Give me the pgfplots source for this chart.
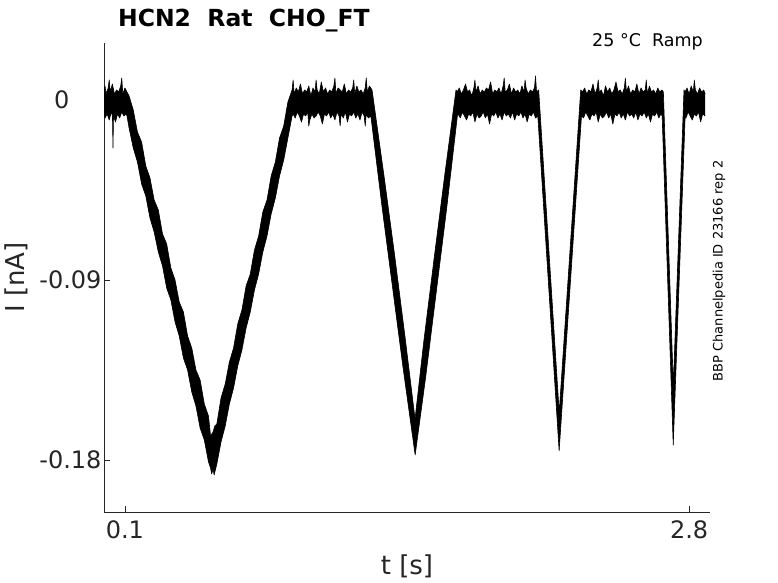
\documentclass[border=0pt]{standalone}
\usepackage{fontspec}
\setmainfont{DejaVu Sans}
\usepackage{pgfplots}
\pgfplotsset{compat=1.18}
\usepgfplotslibrary{fillbetween}
\definecolor{axgray}{gray}{0.15}
\begin{document}
\begin{tikzpicture}[x=1bp,y=1bp]
\begin{axis}[
  at={(0,0)}, anchor=south west,
  scale only axis, width=606bp, height=469bp,
  xmin=0, xmax=2.9, ymin=-0.206, ymax=0.0285,
  axis x line*=bottom, axis y line*=left,
  axis line style={axgray, line width=0.6bp, -},
  xtick={0.1,2.8}, xticklabels={0.1,2.8},
  ytick={-0.18,-0.09,0}, yticklabels={-0.18,-0.09,{0\hspace*{32bp}}},
  tick align=inside, major tick length=6bp,
  tick style={axgray, line width=0.6bp},
  ticklabel style={font=\fontsize{24bp}{28bp}\selectfont, text=axgray},
  xticklabel style={yshift=-5bp},
  yticklabel style={xshift=1bp},
  xlabel={t [s]}, ylabel={I [nA]},
  every axis x label/.style={at={(axis description cs:0.5,-0.1151)}, anchor=center},
  every axis y label/.style={at={(axis description cs:-0.1444,0.5)}, anchor=center, rotate=90},
  label style={font=\fontsize{26bp}{30bp}\selectfont, text=axgray},
  clip mode=individual,
]
% upper edge of the recorded trace
\addplot[name path=U, black, line width=0.6bp, line join=round] coordinates {
(0.000,0.004) (0.005,0.007) (0.010,0.003) (0.020,0.006) (0.025,0.010) (0.030,0.004) (0.040,0.008)
(0.050,0.003) (0.060,0.005) (0.070,0.004) (0.080,0.007) (0.085,0.011) (0.090,0.003) (0.100,0.006) (0.110,0.004)
(0.12,0.002) (0.14,-0.005) (0.16,-0.016) (0.18,-0.021) (0.20,-0.033) (0.22,-0.039)
(0.24,-0.050) (0.26,-0.055) (0.28,-0.067) (0.30,-0.072) (0.32,-0.084) (0.34,-0.090)
(0.36,-0.101) (0.38,-0.106) (0.40,-0.118) (0.42,-0.124) (0.44,-0.135) (0.46,-0.140)
(0.48,-0.152) (0.50,-0.158) (0.51,-0.168) (0.522,-0.166) (0.53,-0.163) (0.54,-0.162)
(0.56,-0.149) (0.58,-0.142) (0.60,-0.131) (0.62,-0.124) (0.64,-0.112) (0.66,-0.105)
(0.68,-0.093) (0.70,-0.087) (0.72,-0.075) (0.74,-0.068) (0.76,-0.056) (0.78,-0.050)
(0.80,-0.038) (0.82,-0.031) (0.84,-0.019) (0.86,-0.013) (0.88,-0.001) (0.90,0.005)
(0.905,0.010) (0.91,0.003) (0.92,0.006) (0.93,0.004) (0.94,0.008) (0.95,0.003) (0.96,0.005)
(0.97,0.004) (0.98,0.007) (0.99,0.002) (1.00,0.006) (1.01,0.004) (1.015,0.010) (1.02,0.005)
(1.03,0.003) (1.04,0.009) (1.05,0.004) (1.06,0.006) (1.07,0.003) (1.08,0.005)
(1.09,0.004) (1.10,0.007) (1.105,0.011) (1.11,0.003) (1.12,0.006) (1.13,0.005) (1.14,0.004)
(1.15,0.008) (1.16,0.003) (1.17,0.005) (1.18,0.004) (1.19,0.006) (1.195,0.010) (1.20,0.003)
(1.21,0.007) (1.22,0.004) (1.23,0.005) (1.24,0.003) (1.25,0.006) (1.255,0.011) (1.26,0.004)
(1.27,0.007) (1.2827,0.005)
(1.34,-0.038) (1.39,-0.077) (1.44,-0.118) (1.4885,-0.1595) (1.53,-0.121) (1.58,-0.079)
(1.63,-0.038) (1.6845,0.005)
(1.69,0.004) (1.70,0.006) (1.71,0.003) (1.72,0.005) (1.73,0.008) (1.74,0.004)
(1.75,0.005) (1.76,0.002) (1.77,0.006) (1.775,0.010) (1.78,0.004) (1.79,0.007) (1.80,0.003)
(1.81,0.005) (1.82,0.004) (1.83,0.006) (1.84,0.005) (1.85,0.009) (1.86,0.003)
(1.87,0.005) (1.88,0.004) (1.89,0.006) (1.90,0.003) (1.91,0.007) (1.915,0.011) (1.92,0.004)
(1.93,0.005) (1.94,0.008) (1.95,0.003) (1.96,0.006) (1.97,0.004) (1.98,0.005)
(1.99,0.003) (2.00,0.007) (2.01,0.004) (2.015,0.010) (2.02,0.006) (2.03,0.003) (2.04,0.005)
(2.05,0.004) (2.06,0.006) (2.065,0.012) (2.07,0.004) (2.0801,0.005)
(2.1783,-0.1563) (2.2813,0.005)
(2.29,0.004) (2.30,0.006) (2.31,0.003) (2.32,0.005) (2.33,0.004) (2.34,0.008)
(2.35,0.003) (2.36,0.006) (2.365,0.010) (2.37,0.004) (2.38,0.005) (2.39,0.002) (2.40,0.007)
(2.41,0.004) (2.42,0.006) (2.43,0.003) (2.44,0.005) (2.45,0.009) (2.46,0.004)
(2.47,0.005) (2.48,0.003) (2.49,0.006) (2.495,0.011) (2.50,0.004) (2.51,0.007) (2.52,0.003)
(2.53,0.005) (2.54,0.004) (2.55,0.008) (2.56,0.003) (2.57,0.006) (2.58,0.004)
(2.59,0.005) (2.595,0.010) (2.60,0.003) (2.61,0.007) (2.62,0.004) (2.63,0.005) (2.64,0.003)
(2.65,0.006) (2.66,0.004) (2.67,0.005) (2.6768,0.004)
(2.7244,-0.1427) (2.7755,0.005)
(2.78,0.004) (2.79,0.006) (2.80,0.003) (2.81,0.007) (2.82,0.004) (2.825,0.010) (2.83,0.005)
(2.84,0.003) (2.85,0.006) (2.86,0.004) (2.87,0.005) (2.877,0.003)
};
% lower edge of the recorded trace
\addplot[name path=L, black, line width=0.6bp, line join=round] coordinates {
(0.000,-0.006) (0.005,-0.009) (0.015,-0.007) (0.025,-0.010) (0.035,-0.006)
(0.0405,-0.008) (0.043,-0.024) (0.0455,-0.008) (0.055,-0.011) (0.065,-0.007)
(0.075,-0.009) (0.085,-0.006) (0.095,-0.008) (0.105,-0.007) (0.110,-0.008)
(0.12,-0.014) (0.14,-0.024) (0.16,-0.031) (0.18,-0.042) (0.20,-0.048) (0.22,-0.059)
(0.24,-0.066) (0.26,-0.076) (0.28,-0.083) (0.30,-0.094) (0.32,-0.100) (0.34,-0.111)
(0.36,-0.118) (0.38,-0.129) (0.40,-0.135) (0.42,-0.146) (0.44,-0.153) (0.46,-0.164)
(0.48,-0.170) (0.50,-0.181) (0.51,-0.184) (0.515,-0.187) (0.522,-0.1845) (0.527,-0.1875)
(0.54,-0.182) (0.56,-0.171) (0.58,-0.163) (0.60,-0.152) (0.62,-0.144) (0.64,-0.133)
(0.66,-0.125) (0.68,-0.114) (0.70,-0.106) (0.72,-0.095) (0.74,-0.087) (0.76,-0.076)
(0.78,-0.068) (0.80,-0.057) (0.82,-0.049) (0.84,-0.038) (0.86,-0.030) (0.88,-0.019)
(0.90,-0.008)
(0.905,-0.007) (0.915,-0.009) (0.925,-0.006) (0.935,-0.008) (0.945,-0.011) (0.955,-0.007)
(0.965,-0.008) (0.975,-0.006) (0.98,-0.013) (0.985,-0.010) (0.995,-0.007) (1.005,-0.009) (1.015,-0.008)
(1.025,-0.006) (1.035,-0.008) (1.045,-0.012) (1.055,-0.007) (1.065,-0.008) (1.075,-0.006)
(1.085,-0.009) (1.095,-0.007) (1.105,-0.010) (1.115,-0.006) (1.125,-0.008) (1.13,-0.013) (1.135,-0.007)
(1.145,-0.009) (1.155,-0.006) (1.165,-0.011) (1.175,-0.007) (1.185,-0.008) (1.195,-0.006)
(1.205,-0.009) (1.215,-0.007) (1.225,-0.010) (1.235,-0.006) (1.245,-0.008) (1.25,-0.013) (1.255,-0.007)
(1.265,-0.009) (1.277,-0.008)
(1.33,-0.053) (1.38,-0.093) (1.43,-0.133) (1.489,-0.1775) (1.54,-0.138) (1.59,-0.096)
(1.64,-0.054) (1.691,-0.008)
(1.695,-0.007) (1.705,-0.009) (1.715,-0.006) (1.725,-0.008) (1.735,-0.010) (1.745,-0.007)
(1.755,-0.008) (1.765,-0.006) (1.775,-0.011) (1.785,-0.007) (1.795,-0.009) (1.805,-0.008)
(1.815,-0.006) (1.825,-0.009) (1.835,-0.007) (1.845,-0.012) (1.855,-0.007) (1.865,-0.008)
(1.875,-0.006) (1.885,-0.009) (1.895,-0.007) (1.905,-0.010) (1.915,-0.006) (1.925,-0.008)
(1.935,-0.007) (1.945,-0.009) (1.955,-0.006) (1.965,-0.010) (1.975,-0.007) (1.985,-0.008)
(1.995,-0.006) (2.005,-0.009) (2.015,-0.007) (2.025,-0.011) (2.035,-0.007) (2.045,-0.008)
(2.055,-0.006) (2.065,-0.009) (2.076,-0.008)
(2.178,-0.1755) (2.285,-0.008)
(2.295,-0.009) (2.305,-0.006) (2.315,-0.008) (2.325,-0.010) (2.335,-0.007) (2.345,-0.008)
(2.355,-0.006) (2.365,-0.011) (2.375,-0.007) (2.385,-0.009) (2.395,-0.008) (2.405,-0.006)
(2.415,-0.009) (2.425,-0.007) (2.435,-0.012) (2.445,-0.007) (2.455,-0.008) (2.465,-0.006)
(2.475,-0.009) (2.485,-0.007) (2.495,-0.010) (2.505,-0.006) (2.515,-0.008) (2.525,-0.007)
(2.535,-0.009) (2.545,-0.006) (2.555,-0.010) (2.565,-0.007) (2.575,-0.008) (2.585,-0.006)
(2.595,-0.009) (2.605,-0.007) (2.615,-0.011) (2.625,-0.007) (2.635,-0.008) (2.645,-0.006)
(2.655,-0.009) (2.665,-0.007) (2.671,-0.008)
(2.724,-0.1725) (2.781,-0.008)
(2.785,-0.009) (2.795,-0.006) (2.805,-0.008) (2.815,-0.010) (2.825,-0.007) (2.835,-0.008)
(2.845,-0.006) (2.855,-0.011) (2.865,-0.007) (2.877,-0.008)
};
\addplot[black] fill between[of=U and L];
\node[anchor=base west, inner sep=0pt, font=\bfseries\fontsize{23.5bp}{28bp}\selectfont, text=black]
  at (axis description cs:0.023,1.0341) {HCN2\ \ Rat\ \ CHO\_FT};
\node[anchor=base east, inner sep=0pt, font=\fontsize{17.5bp}{21bp}\selectfont, text=black]
  at (axis description cs:0.9884,0.9915) {25 °C\ \ Ramp};
\node[anchor=center, inner sep=0pt, rotate=90, font=\fontsize{13bp}{16bp}\selectfont, text=black]
  at (axis description cs:1.0149,0.5139) {BBP Channelpedia ID 23166 rep 2};
\end{axis}
\pgfresetboundingbox
\path[use as bounding box] (-104,-71) rectangle (674,512);
\end{tikzpicture}
\end{document}
